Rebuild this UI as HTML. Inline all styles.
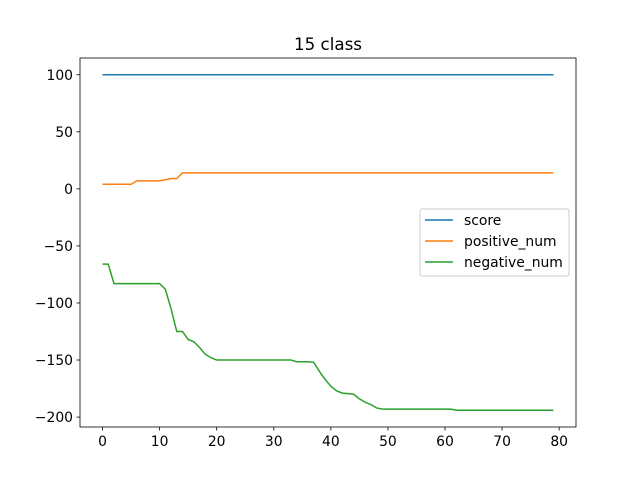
<!DOCTYPE html>
<html><head><meta charset="utf-8"><style>
body{margin:0;background:#fff;font-family:"DejaVu Sans","Liberation Sans",sans-serif;}
svg text{font-family:"DejaVu Sans","Liberation Sans",sans-serif;}
</style></head><body>
<svg id="chart" width="640" height="480" xmlns="http://www.w3.org/2000/svg">
<rect width="640" height="480" fill="#fff"/>
<text x="328" y="50" font-size="16.7" text-anchor="middle">15 class</text>
<g id="plot"></g>
</svg>
<script>
const xs = Array.from({length:80},(_,i)=>i);
const scoreVals = Array(80).fill(100);
const positiveVals = [4,4,4,4,4,4,7,7,7,7,7,8,9,9,14].concat(Array(65).fill(14));
const negativeVals = [-66,-66,-83,-83,-83,-83,-83,-83,-83,-83,-83,-88,-105,-125,-125,-132,-134,-139,-145,-148,-150,
 -150,-150,-150,-150,-150,-150,-150,-150,-150,-150,-150,-150,-150,-151.5,-151.5,-151.5,-152,-160,-167,-173,-177,-179,-179.5,-180,-184,-187,-189,-192,-193,
 -193,-193,-193,-193,-193,-193,-193,-193,-193,-193,-193,-193,
 -194,-194,-194,-194,-194,-194,-194,-194,-194,-194,-194,-194,-194,-194,-194,-194,-194,-194];
const xTicks = [0,10,20,30,40,50,60,70,80];
const yTicks = [100,50,0,-50,-100,-150,-200];
const seriesNames = ["score","positive_num","negative_num"];
const colors = ["#1f77b4","#ff7f0e","#2ca02c"];

const L=80,R=576,T=58,B=427;
const xmin=-3.95,xmax=82.95,ymin=-208.7,ymax=114.7;
const X=v=>L+(v-xmin)/(xmax-xmin)*(R-L);
const Y=v=>B-(v-ymin)/(ymax-ymin)*(B-T);
const NS="http://www.w3.org/2000/svg";
const g=document.getElementById('plot');
function mk(t,a){const e=document.createElementNS(NS,t);for(const k in a)e.setAttribute(k,a[k]);g.appendChild(e);return e;}

[scoreVals,positiveVals,negativeVals].forEach((vals,si)=>{
  const p=mk('polyline',{points:vals.map((v,i)=>X(xs[i]).toFixed(2)+','+Y(v).toFixed(2)).join(' '),fill:'none',stroke:colors[si],'stroke-width':1.5});
  
  
});
const frame=mk('rect',{x:L,y:T,width:R-L,height:B-T,fill:'none',stroke:'#000','stroke-width':0.8});


xTicks.forEach(t=>{
  mk('line',{x1:X(t),x2:X(t),y1:B,y2:B+3.5,stroke:'#000','stroke-width':0.8});
  const tx=mk('text',{x:X(t),y:B+19,'font-size':13.9,'text-anchor':'middle'});tx.textContent=t;
  
  
});
yTicks.forEach(t=>{
  mk('line',{x1:L-3.5,x2:L,y1:Y(t),y2:Y(t),stroke:'#000','stroke-width':0.8});
  const tx=mk('text',{x:L-7,y:Y(t)+5,'font-size':13.9,'text-anchor':'end'});tx.textContent=t<0?'\u2212'+(-t):t;
  
  
});
const lg=mk('rect',{x:420,y:209,width:149,height:67,rx:2,fill:'#fff','fill-opacity':0.8,stroke:'#ccc','stroke-width':1});


seriesNames.forEach((n,i)=>{
  const y=220+i*21;
  mk('line',{x1:425,x2:453,y1:y,y2:y,stroke:colors[i],'stroke-width':1.5});
  const tx=mk('text',{x:464,y:y+5,'font-size':13.9});tx.textContent=n;
  
  
});
</script>
</body></html>
